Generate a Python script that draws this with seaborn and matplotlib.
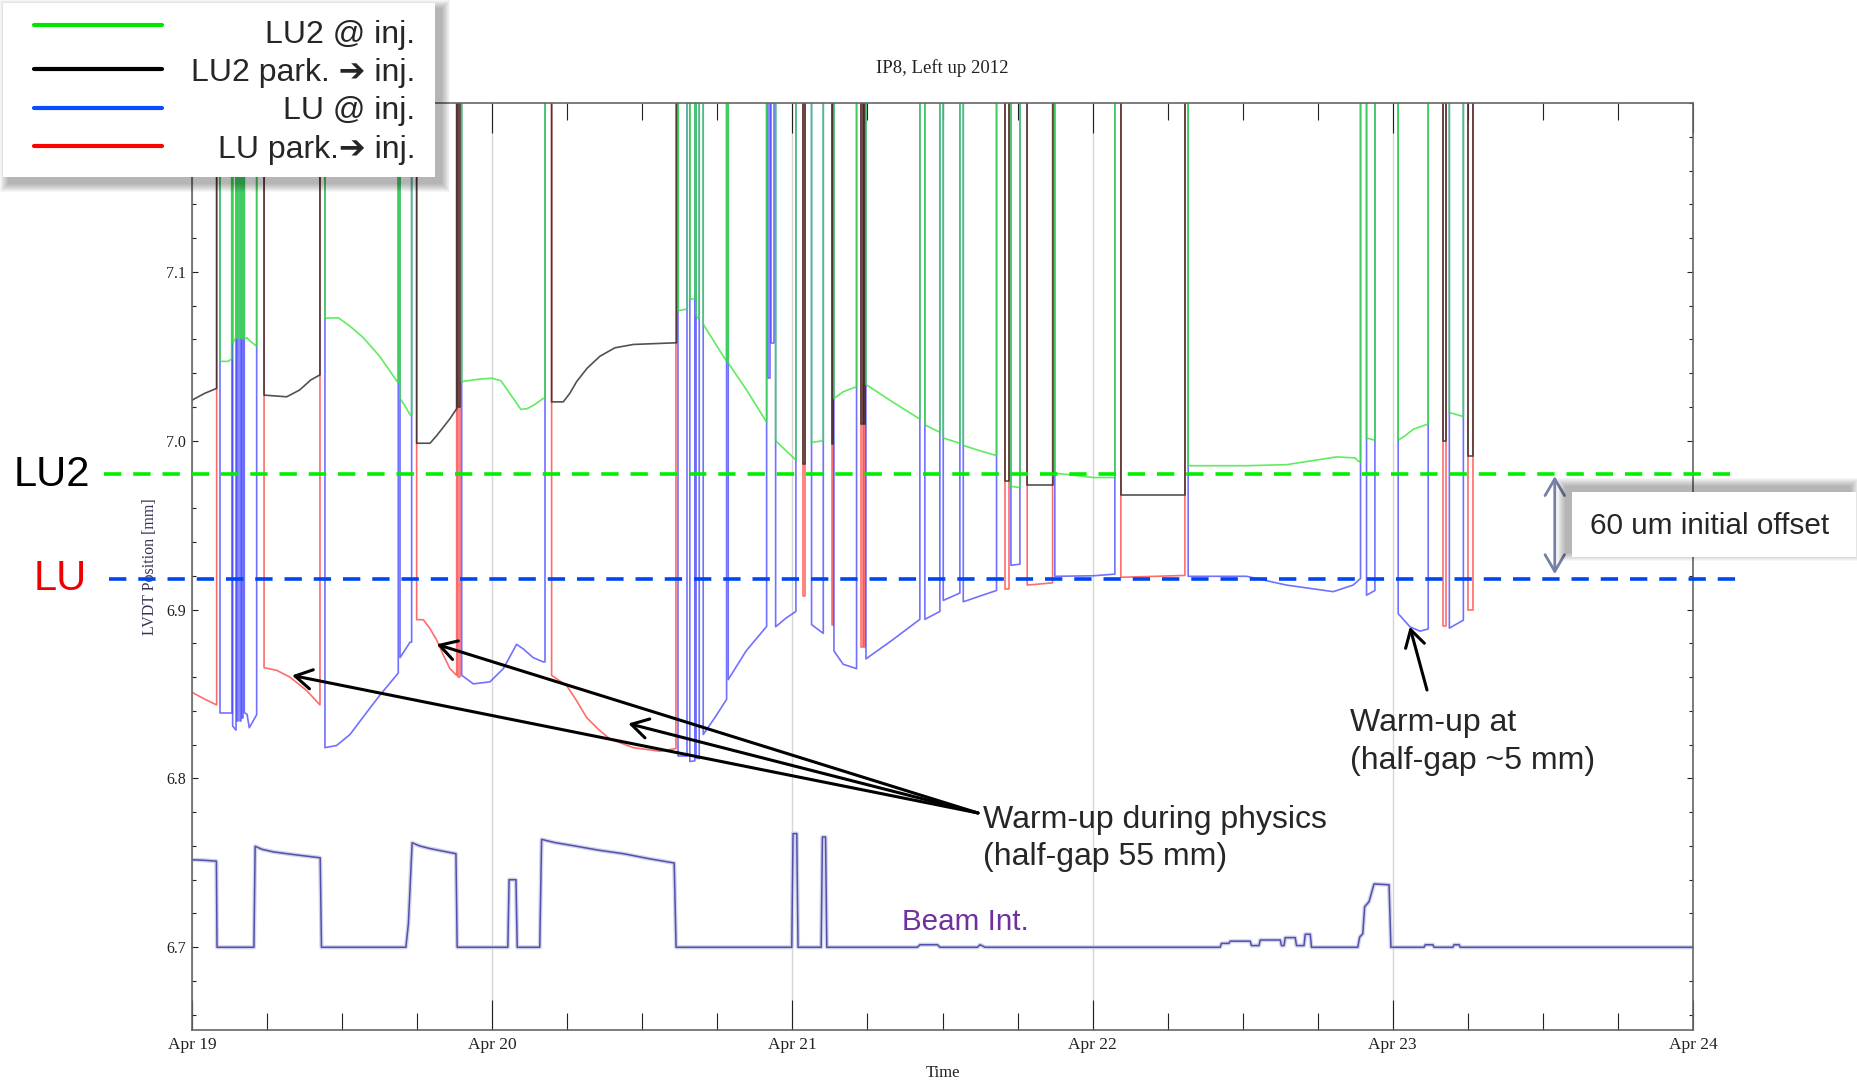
import numpy as np
import pandas as pd
import matplotlib
matplotlib.use("Agg")
import matplotlib.pyplot as plt
import seaborn as sns
from matplotlib.patches import Rectangle
from matplotlib.lines import Line2D
from matplotlib.ticker import MultipleLocator

sns.set_style("ticks")
plt.rcParams["font.family"] = ["Liberation Serif", "DejaVu Serif"]
SANS = ["Liberation Sans", "DejaVu Sans"]

W, H = 1857, 1080
OUT = 7.35  # jaw opened: trace leaves the plotted range

# ---------------- data (hours since Apr 19 00:00, LVDT position mm) -------------
black_segments = [
    [(-0.5, 7.024), (0.0, 7.024), (1.0, 7.028), (1.97, 7.031)],
    [(5.76, 7.027), (7.57, 7.026), (8.6, 7.030), (9.5, 7.036), (10.23, 7.039)],
    [(17.96, 6.9985), (19.03, 6.9985), (19.56, 7.003), (20.62, 7.013), (21.16, 7.019)],
    [(21.30, 7.020), (21.42, 7.020)],
    [(28.75, 7.023), (29.68, 7.023), (30.2, 7.028), (30.75, 7.035), (31.6, 7.043),
     (32.61, 7.050), (33.8, 7.055), (35.28, 7.057), (38.74, 7.058)],
    [(48.87, 6.986), (49.00, 6.986)],
    [(51.13, 6.998), (51.27, 6.998)],
    [(53.50, 7.010), (53.62, 7.010)],
    [(53.70, 7.010), (53.80, 7.010)],
    [(64.99, 6.976), (65.33, 6.976)],
    [(66.77, 6.974), (68.80, 6.974)],
    [(74.26, 6.968), (79.38, 6.968)],
    [(99.98, 7.000), (100.25, 7.000)],
    [(102.04, 6.991), (102.38, 6.991)],
]

red_segments = [
    [(-0.5, 6.851), (0.0, 6.851), (1.0, 6.847), (1.97, 6.8435)],
    [(5.76, 6.8656), (6.77, 6.864), (7.83, 6.860), (9.17, 6.852), (10.23, 6.8435)],
    [(17.96, 6.894), (18.49, 6.894), (19.0, 6.889), (19.56, 6.882), (20.1, 6.873),
     (20.62, 6.865), (21.16, 6.861)],
    [(21.30, 6.860), (21.42, 6.860)],
    [(28.75, 6.861), (29.95, 6.855), (30.75, 6.846), (31.55, 6.836), (32.5, 6.829),
     (33.41, 6.8234), (35.28, 6.8182), (37.41, 6.8161), (38.69, 6.8177)],
    [(48.87, 6.908), (49.00, 6.908)],
    [(51.13, 6.891), (51.27, 6.891)],
    [(53.50, 6.878), (53.62, 6.878)],
    [(53.70, 6.878), (53.80, 6.878)],
    [(64.99, 6.912), (65.33, 6.912)],
    [(66.77, 6.9145), (68.80, 6.9158)],
    [(74.26, 6.9191), (79.38, 6.9202)],
    [(99.98, 6.8905), (100.25, 6.8905)],
    [(102.04, 6.900), (102.38, 6.900)],
]

green_segments = [
    [(2.24, 7.047), (2.9, 7.047), (3.17, 7.0485)],
    [(3.25, 7.058), (3.52, 7.061)],
    [(3.60, 7.061), (3.70, 7.061)],
    [(3.80, 7.061), (3.92, 7.061)],
    [(4.00, 7.060), (4.10, 7.060)],
    [(4.18, 7.060), (4.40, 7.061), (4.64, 7.059), (5.17, 7.056)],
    [(10.63, 7.0725), (11.7, 7.0728), (12.6, 7.068), (13.7, 7.061), (15.0, 7.050),
     (16.36, 7.0355), (16.49, 7.0345)],
    [(16.63, 7.025), (17.0, 7.021), (17.43, 7.0154), (17.56, 7.015)],
    [(21.56, 7.035), (23.0, 7.0365), (24.0, 7.037), (24.7, 7.0355), (25.5, 7.027),
     (26.3, 7.0185), (26.8, 7.019), (27.3, 7.021), (28.08, 7.025), (28.22, 7.025)],
    [(38.88, 7.077), (39.60, 7.078)],
    [(39.80, 7.084), (40.20, 7.084)],
    [(40.30, 7.074), (40.55, 7.072)],
    [(40.87, 7.069), (41.8, 7.058), (42.74, 7.047)],
    [(42.87, 7.046), (44.34, 7.030), (45.94, 7.011)],
    [(46.66, 7.000), (47.5, 6.994), (48.28, 6.9886)],
    [(49.53, 6.999), (50.47, 7.000)],
    [(51.32, 7.025), (52.06, 7.029), (53.13, 7.032)],
    [(53.88, 7.0333), (56.0, 7.023), (58.19, 7.0128)],
    [(58.59, 7.0094), (59.79, 7.005)],
    [(60.06, 7.0016), (61.39, 6.9985)],
    [(61.66, 6.9972), (63.0, 6.994), (64.32, 6.9912)],
    [(65.47, 6.973), (66.19, 6.9722)],
    [(68.98, 6.9808), (72.05, 6.9782), (73.78, 6.9782)],
    [(79.64, 6.9852), (84.31, 6.9852), (87.5, 6.9858), (91.5, 6.9904), (93.0, 6.9898),
     (93.23, 6.988), (93.42, 6.9873)],
    [(93.90, 7.0016), (94.57, 7.0003)],
    [(96.43, 7.0003), (97.0, 7.003), (97.63, 7.0068), (98.83, 7.0099)],
    [(100.52, 7.0167), (101.64, 7.0143)],
]

blue_segments = [
    [(2.24, 6.839), (3.17, 6.839)],
    [(3.25, 6.831), (3.52, 6.8286)],
    [(3.60, 6.834), (3.70, 6.834)],
    [(3.80, 6.8338), (3.92, 6.8338)],
    [(4.00, 6.836), (4.10, 6.836)],
    [(4.18, 6.839), (4.40, 6.838), (4.58, 6.830), (5.17, 6.8377)],
    [(10.63, 6.8182), (11.56, 6.8195), (12.63, 6.826), (13.8, 6.8375), (15.03, 6.8494),
     (16.49, 6.8624)],
    [(16.63, 6.8715), (17.43, 6.8807), (17.56, 6.8807)],
    [(21.56, 6.8611), (22.49, 6.856), (23.82, 6.8572), (24.89, 6.865), (25.95, 6.8794),
     (26.48, 6.8767), (27.28, 6.8715), (28.08, 6.869), (28.22, 6.869)],
    [(38.88, 6.813), (39.54, 6.813)],
    [(39.80, 6.810), (40.20, 6.8104)],
    [(40.30, 6.812), (40.55, 6.8117)],
    [(40.87, 6.826), (41.8, 6.836), (42.74, 6.8468)],
    [(42.87, 6.8585), (44.3, 6.8755), (45.94, 6.890)],
    [(46.05, 7.037), (46.20, 7.037)],
    [(46.25, 7.058), (46.52, 7.058)],
    [(46.66, 6.8898), (47.5, 6.895), (48.28, 6.8989)],
    [(49.53, 6.8911), (50.47, 6.8859)],
    [(51.32, 6.8755), (52.06, 6.8676), (53.13, 6.865)],
    [(53.88, 6.8708), (56.0, 6.882), (58.19, 6.8942)],
    [(58.59, 6.8942), (59.79, 6.8989)],
    [(60.06, 6.9054), (61.39, 6.9098)],
    [(61.66, 6.9046), (63.0, 6.908), (64.32, 6.9113)],
    [(65.47, 6.9262), (66.19, 6.9269)],
    [(68.98, 6.9197), (72.05, 6.920), (73.78, 6.921)],
    [(79.64, 6.9197), (84.31, 6.9197), (87.5, 6.9145), (91.24, 6.9106), (92.83, 6.9145),
     (93.42, 6.9184)],
    [(93.90, 6.9085), (94.57, 6.9113)],
    [(96.43, 6.8976), (97.37, 6.8898), (98.17, 6.8872), (98.83, 6.8885)],
    [(100.52, 6.889), (101.64, 6.8937)],
]

beam_hours = [-0.5, 1.0, 1.95, 2.0, 4.95, 5.05, 5.6, 6.5, 8.0, 10.25, 10.35,
              17.1, 17.3, 17.6, 18.2, 19.0, 20.0, 21.1, 21.2,
              25.25, 25.35, 25.9, 26.0,
              27.8, 27.95, 29.0, 30.6, 32.5, 34.5, 36.5, 38.55, 38.7,
              47.95, 48.05, 48.35, 48.45, 50.3, 50.4, 50.65, 50.75,
              58.0, 58.2, 59.6, 59.8, 62.8, 63.0, 63.4,
              82.2, 82.3, 82.9, 83.0, 84.6, 84.7, 85.3, 85.4, 87.0, 87.1, 87.3, 87.4,
              88.2, 88.3, 88.9, 89.0, 89.4, 89.5,
              93.2, 93.35, 93.6, 93.75, 94.1, 94.5, 95.7, 95.85,
              98.5, 98.6, 99.2, 99.3, 100.8, 100.9, 101.3, 101.4, 121.0]
beam_values = [6.7520, 6.7515, 6.7510, 6.7000, 6.7000, 6.7598, 6.7580, 6.7565, 6.7550, 6.7530, 6.7000,
               6.7000, 6.7140, 6.7619, 6.7600, 6.7585, 6.7570, 6.7554, 6.7000,
               6.7000, 6.7400, 6.7400, 6.7000,
               6.7000, 6.7639, 6.7620, 6.7600, 6.7575, 6.7554, 6.7525, 6.7499, 6.7000,
               6.7000, 6.7673, 6.7673, 6.7000, 6.7000, 6.7653, 6.7653, 6.7000,
               6.7000, 6.7015, 6.7015, 6.7000, 6.7000, 6.7015, 6.7000,
               6.7000, 6.7023, 6.7023, 6.7036, 6.7036, 6.7010, 6.7010, 6.7043, 6.7043, 6.7010, 6.7010, 6.7057,
               6.7057, 6.7010, 6.7010, 6.7077, 6.7077, 6.7000,
               6.7000, 6.7060, 6.7080, 6.7240, 6.7270, 6.7375, 6.7370, 6.7000,
               6.7000, 6.7015, 6.7015, 6.7000, 6.7000, 6.7015, 6.7015, 6.7000, 6.7000]

day_labels = ["Apr 19", "Apr 20", "Apr 21", "Apr 22", "Apr 23", "Apr 24"]
legend_labels = ["LU2 @ inj.", "LU2 park. \u2794 inj.", "LU @ inj.", "LU park.\u2794 inj."]
lu2_level, lu_level = 6.98, 6.918


def build(segments):
    rows = []
    for k, seg in enumerate(segments):
        pts = [(seg[0][0], OUT)] + list(seg) + [(seg[-1][0], OUT)]
        rows += [(h, v, k) for h, v in pts]
    return pd.DataFrame(rows, columns=["hour", "value", "unit"])


def fpx(x, y):
    return (x / W, 1 - y / H)


# ---------------- figure ----------------
fig = plt.figure(figsize=(W / 100, H / 100), dpi=100)
ax = fig.add_axes([192 / W, 1 - 1030 / H, 1501 / W, 927 / H])

beam_df = pd.DataFrame({"hour": beam_hours, "value": beam_values})
sns.lineplot(data=beam_df, x="hour", y="value", estimator=None, sort=False,
             color="#c8c8e6", lw=3.0, alpha=0.8, ax=ax, zorder=1.9)
sns.lineplot(data=beam_df, x="hour", y="value", estimator=None, sort=False,
             color="#4a4aa8", lw=1.1, alpha=0.95, ax=ax, zorder=2)

styles = [(red_segments, "#ff3b3b", 0.75, 2.1),
          (blue_segments, "#3a3aff", 0.72, 2.2),
          (black_segments, "#262626", 0.8, 2.3),
          (green_segments, "#33e633", 0.78, 2.4)]
for segs, col, a, z in styles:
    sns.lineplot(data=build(segs), x="hour", y="value", units="unit", estimator=None,
                 sort=False, color=col, lw=1.2, alpha=a, ax=ax, zorder=z)

ax.set_xlim(0, 120)
ax.set_ylim(6.651, 7.2)
ax.set_xticks(np.arange(0, 121, 24))
ax.set_xticklabels(day_labels)
ax.xaxis.set_minor_locator(MultipleLocator(6))
ax.set_yticks([6.7, 6.8, 6.9, 7.0, 7.1])
ax.set_yticklabels(["6.7", "6.8", "6.9", "7.0", "7.1"])
ax.yaxis.set_minor_locator(MultipleLocator(0.02))
ax.tick_params(axis="x", which="major", direction="in", length=21.5, width=0.8,
               top=True, bottom=True, labelsize=12.5, pad=5, colors="#222222")
ax.tick_params(axis="x", which="minor", direction="in", length=12, width=0.8,
               top=True, bottom=True, colors="#222222")
ax.tick_params(axis="y", which="major", direction="in", length=4.5, width=0.8,
               left=True, right=True, labelsize=11.5, pad=4.3, colors="#222222")
ax.tick_params(axis="y", which="minor", direction="in", length=3, width=0.8,
               left=True, right=True, colors="#222222")
ax.grid(axis="x", which="major", color="#d6d6d6", lw=1.0)
for s in ax.spines.values():
    s.set_color("#666666")
    s.set_linewidth(1.2)

ax.set_title("IP8, Left up 2012", fontsize=13.5, pad=21.6, color="#222222")
ax.set_xlabel("Time", fontsize=12, color="#222222")
ax.xaxis.label.set_va("baseline")
ax.xaxis.set_label_coords(0.5, -(1077 - 1030) / 927)
ax.set_ylabel("LVDT Position [mm]", fontsize=11.5, color="#333355")
ax.yaxis.set_label_coords((158 - 192) / 1501, 0.5)

# reference levels (dashed), extending beyond the frame
ax.axhline(lu2_level, xmin=(104 - 192) / 1501, xmax=(1739 - 192) / 1501, color="#00ee00",
           lw=2.6, dashes=(4.8, 3.3), clip_on=False, zorder=5)
ax.axhline(lu_level, xmin=(109 - 192) / 1501, xmax=(1739 - 192) / 1501, color="#0046f0",
           lw=2.6, dashes=(4.8, 3.3), clip_on=False, zorder=5)

fig.text(90 / W, 1 - 485.5 / H, "LU2", ha="right", va="baseline", fontsize=30,
         family=SANS, color="black")
fig.text(86.5 / W, 1 - 590 / H, "LU", ha="right", va="baseline", fontsize=30,
         family=SANS, color="#ee0000")

# annotations
arrow_kw = dict(arrowstyle="->,head_length=0.6,head_width=0.35", lw=2.2, color="black",
                shrinkA=0, shrinkB=0, mutation_scale=20)
for tip in [(8.0, 6.861), (19.56, 6.8794), (34.88, 6.8325)]:
    ax.annotate("", xy=tip, xycoords="data", xytext=(978, 1080 - 813),
                textcoords="figure pixels", arrowprops=arrow_kw, annotation_clip=False)
ax.annotate("", xy=(97.36, 6.8898), xycoords="data", xytext=(1427, 1080 - 690),
            textcoords="figure pixels", arrowprops=arrow_kw, annotation_clip=False)
fig.text(983 / W, 1 - 828 / H, "Warm-up during physics", ha="left", va="baseline",
         fontsize=23, family=SANS)
fig.text(983 / W, 1 - 865.5 / H, "(half-gap 55 mm)", ha="left", va="baseline",
         fontsize=23, family=SANS)
fig.text(1350 / W, 1 - 731 / H, "Warm-up at", ha="left", va="baseline",
         fontsize=23, family=SANS)
fig.text(1350 / W, 1 - 769 / H, "(half-gap ~5 mm)", ha="left", va="baseline",
         fontsize=23, family=SANS)
fig.text(902 / W, 1 - 930 / H, "Beam Int.", ha="left", va="baseline",
         fontsize=21.3, family=SANS, color="#7030a0")

# 60 um offset double arrow
ax.annotate("", xy=(108.95, 6.979), xytext=(108.95, 6.921),
            arrowprops=dict(arrowstyle="<->,head_length=0.6,head_width=0.35", lw=2.0,
                            color="#7480a4", shrinkA=0, shrinkB=0, mutation_scale=20))


def soft_box(x0, y0, x1, y1, dx, dy, z):
    for i in range(9, 0, -1):
        fig.add_artist(Rectangle(fpx(x0 + dx - i, y1 + dy + i), (x1 - x0 + 2 * i) / W,
                                 (y1 - y0 + 2 * i) / H, transform=fig.transFigure,
                                 facecolor="black", alpha=0.035, lw=0, zorder=z))
    fig.add_artist(Rectangle(fpx(x0, y1), (x1 - x0) / W, (y1 - y0) / H,
                             transform=fig.transFigure, facecolor="white",
                             edgecolor="none", zorder=z + 0.1))


soft_box(1572, 492, 1856, 557, -6, -5, 20)
fig.text(1590 / W, 1 - 534 / H, "60 um initial offset", ha="left", va="baseline",
         fontsize=21.4, family=SANS, zorder=21)

# legend (custom, right-aligned labels)
soft_box(3, 3, 435, 177, 6, 6, 20)
leg_colors = ["#00e600", "#000000", "#0a4dff", "#ff0000"]
leg_line_y = [25, 69, 108, 146]
leg_base_y = [43.5, 81.5, 119.5, 158]
for col, ly, by, lab in zip(leg_colors, leg_line_y, leg_base_y, legend_labels):
    fig.add_artist(Line2D([34 / W, 162 / W], [1 - ly / H, 1 - ly / H],
                          transform=fig.transFigure, color=col, lw=3.0, zorder=21))
    fig.text(415 / W, 1 - by / H, lab, ha="right", va="baseline", fontsize=23,
             family=SANS, zorder=21)

fig.savefig("out.png", dpi=100)
